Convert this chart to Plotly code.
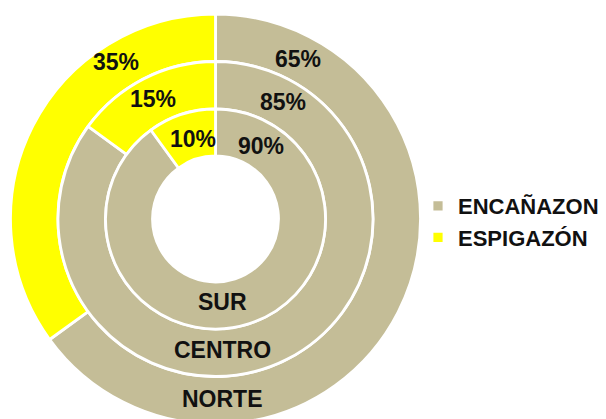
import plotly.graph_objects as go

# ---- data ----
categories = ["ENCAÑAZON", "ESPIGAZÓN"]
ring_names = ["SUR", "CENTRO", "NORTE"]
sur_values = [90, 10]
centro_values = [85, 15]
norte_values = [65, 35]
colors = ["#C4BD97", "#FFFF00"]

# ---- geometry (pixels) ----
W, H = 606, 424
cx, cy = 215.5, 219.0
ring_geom = {  # name: (inner radius, outer radius)
    "NORTE": (157.5, 205.0),
    "CENTRO": (110.0, 157.5),
    "SUR": (63.0, 110.0),
}
values_by_ring = {"SUR": sur_values, "CENTRO": centro_values, "NORTE": norte_values}

# label positions (pixels, from top-left) for the percentages of each ring
pct_pos = {
    "NORTE": [(298, 59), (116, 62)],
    "CENTRO": [(283, 102), (153, 99)],
    "SUR": [(261, 146), (193, 139)],
}
name_pos = {"SUR": (222, 302), "CENTRO": (222, 350), "NORTE": (222, 399)}


def px(x, y):
    return x / W, (H - y) / H


def domain(r):
    return dict(x=[(cx - r) / W, (cx + r) / W],
                y=[max(0, (H - (cy + r)) / H), min(1, (H - (cy - r)) / H)])


fig = go.Figure()
for name in ["NORTE", "CENTRO", "SUR"]:
    r_in, r_out = ring_geom[name]
    fig.add_trace(go.Pie(
        labels=categories,
        values=values_by_ring[name],
        name=name,
        hole=r_in / r_out,
        domain=domain(r_out),
        sort=False,
        direction="clockwise",
        rotation=0,
        textinfo="none",
        hoverinfo="skip",
        marker=dict(colors=colors, line=dict(color="#FFFFFF", width=2.8)),
        showlegend=(name == "NORTE"),
    ))

FONT = "Liberation Sans, Arial, sans-serif"
annotations = []
for name in ring_names:
    for v, (x, y) in zip(values_by_ring[name], pct_pos[name]):
        ax, ay = px(x, y)
        annotations.append(dict(x=ax, y=ay, xref="paper", yref="paper",
                                text=f"{v}%", showarrow=False,
                                xanchor="center", yanchor="middle",
                                font=dict(family=FONT, size=23, color="#111111", weight="bold")))
    nx, ny = px(*name_pos[name])
    annotations.append(dict(x=nx, y=ny, xref="paper", yref="paper",
                            text=name, showarrow=False,
                            xanchor="center", yanchor="middle",
                            font=dict(family=FONT, size=23, color="#111111", weight="bold")))

lx, ly = px(418, 222)
fig.update_layout(
    width=W, height=H,
    margin=dict(l=0, r=0, t=0, b=0),
    paper_bgcolor="white",
    plot_bgcolor="white",
    annotations=annotations,
    legend=dict(x=lx, y=ly, xanchor="left", yanchor="middle",
                font=dict(family=FONT, size=22, color="#111111", weight="bold"),
                bgcolor="rgba(0,0,0,0)", traceorder="normal"),
)

fig.write_html("out.html", config={"displayModeBar": False},
               post_script="document.body.style.margin='0';"
                           "document.body.style.overflow='hidden';"
                           "document.documentElement.style.overflow='hidden';")
